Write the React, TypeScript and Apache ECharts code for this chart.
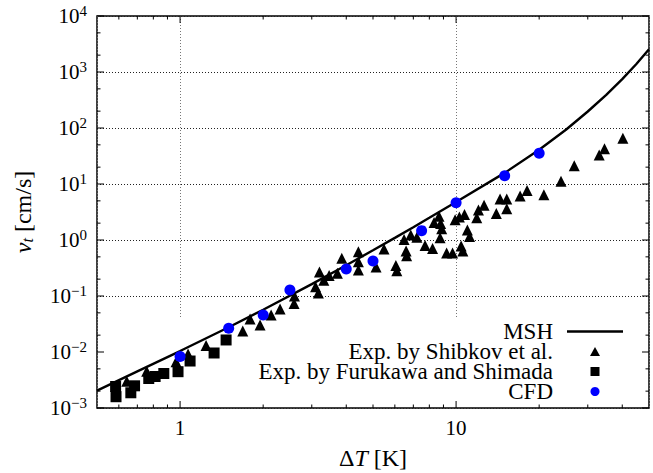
import React, { useEffect, useRef } from "react";
import * as echarts from "echarts";

const FONT = "Liberation Serif, DejaVu Serif, serif";

// MSH model curve
const mshX = [0.5, 0.7, 1, 1.5, 2, 3, 4, 5, 6, 7, 8, 10, 15, 20, 25, 30, 35, 40, 45, 50];
const mshY = [0.00204, 0.0045, 0.0104, 0.0277, 0.0568, 0.163, 0.354, 0.655, 1.09, 1.69, 2.49, 4.77, 15.8, 40.8, 93, 197, 391, 747, 1390, 2540];

// Exp. by Shibkov et al.
const shibkovX = [0.641, 0.757, 0.967, 1.069, 1.242, 1.687, 1.793, 1.949, 2.137, 2.303, 2.588, 2.596, 3.097, 3.17, 3.198, 3.317, 3.467, 3.715, 3.854, 4.426, 4.426, 4.426, 5.13, 5.48, 6.05, 6.1, 6.48, 6.59, 6.62, 6.85, 7.21, 7.72, 8.22, 8.32, 8.67, 8.79, 8.87, 8.75, 9.24, 9.71, 9.92, 10.28, 10.43, 10.58, 10.73, 10.99, 11.19, 11.88, 12.05, 12.63, 13.99, 14.43, 15.26, 15.26, 17.06, 18.08, 20.8, 24.0, 26.8, 33.0, 34.5, 40.2];
const shibkovY = [0.003, 0.00454, 0.00671, 0.0092, 0.0131, 0.0237, 0.0388, 0.0303, 0.0458, 0.0586, 0.0735, 0.1, 0.1466, 0.113, 0.268, 0.191, 0.232, 0.254, 0.471, 0.618, 0.41, 0.291, 0.33, 0.69, 0.35, 0.283, 1.02, 0.637, 0.525, 1.23, 1.12, 0.8, 0.705, 2.05, 2.65, 1.97, 1.59, 1.1, 0.586, 0.586, 2.3, 2.57, 0.78, 0.637, 2.85, 1.51, 1.15, 2.5, 3.43, 4.17, 2.97, 5.4, 5.4, 3.62, 6.11, 7.65, 6.44, 11.2, 21.2, 33.0, 42.7, 65.5];

// Exp. by Furukawa and Shimada
const furukawaX = [0.584, 0.586, 0.663, 0.684, 0.77, 0.812, 0.873, 0.983, 1.087, 1.328, 1.468];
const furukawaY = [0.00242, 0.00159, 0.00187, 0.00249, 0.00336, 0.00365, 0.00413, 0.00445, 0.0069, 0.0096, 0.0164];

// CFD
const cfdX = [1, 1.5, 2, 2.5, 4, 5, 7.5, 10, 15, 20];
const cfdY = [0.0083, 0.0265, 0.0458, 0.128, 0.303, 0.42, 1.47, 4.63, 14.1, 35.3];

// axis ticks
const xMajorTicks = [1, 10];
const xMinorTicks = [0.6, 0.7, 0.8, 0.9, 2, 3, 4, 5, 6, 7, 8, 9, 20, 30, 40];
const yMajorTicks = [1e-3, 1e-2, 1e-1, 1, 10, 100, 1000, 10000];
const yMinorTicks = [0.002, 0.005, 0.02, 0.05, 0.2, 0.5, 2, 5, 20, 50, 200, 500, 2000, 5000];

const legendNames = ["MSH", "Exp. by Shibkov et al.", "Exp. by Furukawa and Shimada", "CFD"];

const zip = (xs: number[], ys: number[]) => xs.map((x, i) => [x, ys[i]]);

const isPow10 = (v: number) => Math.abs(Math.log10(v) - Math.round(Math.log10(v))) < 1e-6;
const expText = (e: number) => (e < 0 ? "\u2212" + -e : String(e));

function xTickSeries(values: number[], len: number) {
  return {
    type: "custom",
    silent: true,
    z: 6,
    data: values.map((v) => [v, 1]),
    encode: { x: 0, y: 1 },
    renderItem: (params: any, api: any) => {
      const px = api.coord([api.value(0), 1])[0];
      const cs = params.coordSys;
      const b = cs.y + cs.height;
      return {
        type: "group",
        children: [
          { type: "line", shape: { x1: px, y1: b, x2: px, y2: b - len }, style: { stroke: "#000", lineWidth: 1 } },
          { type: "line", shape: { x1: px, y1: cs.y, x2: px, y2: cs.y + len }, style: { stroke: "#000", lineWidth: 1 } },
        ],
      };
    },
  };
}

function yTickSeries(values: number[], len: number) {
  return {
    type: "custom",
    silent: true,
    z: 6,
    data: values.map((v) => [1, v]),
    encode: { x: 0, y: 1 },
    renderItem: (params: any, api: any) => {
      const py = api.coord([1, api.value(1)])[1];
      const cs = params.coordSys;
      const r = cs.x + cs.width;
      return {
        type: "group",
        children: [
          { type: "line", shape: { x1: cs.x, y1: py, x2: cs.x + len, y2: py }, style: { stroke: "#000", lineWidth: 1 } },
          { type: "line", shape: { x1: r, y1: py, x2: r - len, y2: py }, style: { stroke: "#000", lineWidth: 1 } },
        ],
      };
    },
  };
}

export default function App() {
  const ref = useRef<HTMLDivElement>(null);
  useEffect(() => {
    document.body.style.margin = "0";
    const chart = echarts.init(ref.current!, null, { renderer: "svg" });
    const labelRich = {
      b: { fontSize: 21, fontFamily: FONT, color: "#000" },
      s: { fontSize: 15, fontFamily: FONT, color: "#000", padding: [0, 0, 11, 0] },
    };
    chart.setOption({
      animation: false,
      backgroundColor: "#fff",
      textStyle: { fontFamily: FONT },
      grid: {
        left: 97,
        right: 4,
        top: 16,
        bottom: 65,
        show: true,
        borderColor: "#000",
        borderWidth: 1.5,
        backgroundColor: "transparent",
        outerBoundsMode: "none",
      },
      graphic: [
        {
          type: "rect",
          z: 1,
          silent: true,
          shape: { x: 98, y: 317, width: 550, height: 90 },
          style: { fill: "#fff" },
        },
      ],
      xAxis: {
        type: "log",
        logBase: 10,
        min: 0.5,
        max: 50,
        axisLine: { show: false },
        axisTick: { show: false },
        splitLine: { show: true, lineStyle: { type: [1, 2], color: "#777", width: 1 } },
        axisLabel: {
          margin: 9,
          fontSize: 21,
          fontFamily: FONT,
          color: "#000",
          formatter: (v: number) => (isPow10(v) ? String(Math.round(v)) : ""),
        },
        name: "Δ{i|T} [K]",
        nameLocation: "middle",
        nameGap: 38,
        nameTextStyle: {
          fontSize: 24,
          fontFamily: FONT,
          color: "#000",
          rich: { i: { fontSize: 24, fontFamily: FONT, fontStyle: "italic", color: "#000" } },
        },
      },
      yAxis: {
        type: "log",
        logBase: 10,
        min: 1e-3,
        max: 1e4,
        axisLine: { show: false },
        axisTick: { show: false },
        splitLine: { show: true, lineStyle: { type: [1, 2], color: "#222", width: 1 } },
        axisLabel: {
          margin: 10,
          fontFamily: FONT,
          fontSize: 21,
          color: "#000",
          formatter: (v: number) => `{b|10}{s|${expText(Math.round(Math.log10(v)))}}`,
          rich: labelRich,
        },
        name: "{i|v}{t|t} [cm/s]",
        nameLocation: "middle",
        nameGap: 62,
        nameTextStyle: {
          fontSize: 24,
          fontFamily: FONT,
          color: "#000",
          rich: {
            i: { fontSize: 24, fontFamily: FONT, fontStyle: "italic", color: "#000" },
            t: { fontSize: 16, fontFamily: FONT, fontStyle: "italic", color: "#000", padding: [9, 0, 0, 0] },
          },
        },
      },
      legend: {
        orient: "vertical",
        right: 30,
        top: 320,
        align: "right",
        itemWidth: 56,
        itemHeight: 9,
        itemGap: -3,
        padding: 0,
        selectedMode: false,
        data: [
          { name: legendNames[0], icon: "path://M0,0H56V2.4H0Z", itemStyle: { color: "#000" } },
          { name: legendNames[1], icon: "path://M0,0M56,9M28,0L33,9L23,9Z" },
          { name: legendNames[2], icon: "path://M0,0M56,9M23.5,0H32.5V9H23.5Z" },
          { name: legendNames[3], icon: "circle" },
        ],
        textStyle: { fontFamily: FONT, fontSize: 23, color: "#000", lineHeight: 21, padding: [0, 9, 0, 0] },
      },
      series: [
        {
          name: legendNames[0],
          type: "line",
          data: zip(mshX, mshY),
          symbol: "none",
          smooth: false,
          lineStyle: { color: "#000", width: 2.4 },
          itemStyle: { color: "#000" },
          z: 3,
        },
        {
          name: legendNames[1],
          type: "scatter",
          data: zip(shibkovX, shibkovY),
          symbol: "triangle",
          symbolSize: 11,
          itemStyle: { color: "#000", opacity: 1 },
          z: 3,
        },
        {
          name: legendNames[2],
          type: "scatter",
          data: zip(furukawaX, furukawaY),
          symbol: "rect",
          symbolSize: 11,
          itemStyle: { color: "#000", opacity: 1 },
          z: 3,
        },
        {
          name: legendNames[3],
          type: "scatter",
          data: zip(cfdX, cfdY),
          symbol: "circle",
          symbolSize: 11,
          itemStyle: { color: "#0000ff", opacity: 1 },
          z: 3,
        },
        xTickSeries(xMinorTicks, 3.5),
        xTickSeries(xMajorTicks, 7),
        yTickSeries(yMinorTicks, 3.5),
        yTickSeries(yMajorTicks, 7),
      ],
    });
    return () => chart.dispose();
  }, []);
  return <div ref={ref} style={{ width: 653, height: 473 }} />;
}
